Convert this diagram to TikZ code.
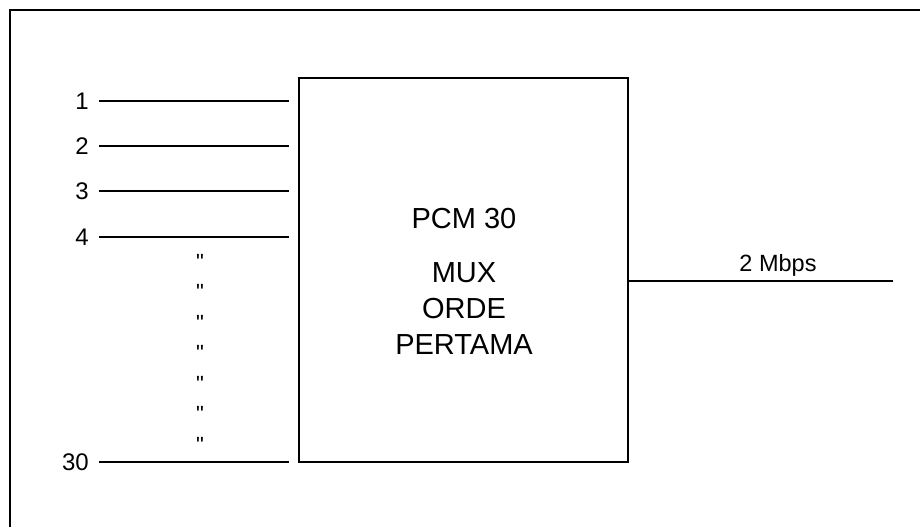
\documentclass[tikz,border=0pt]{standalone}
\usepackage{fontspec}
\setmainfont{Liberation Sans}
\begin{document}
\begin{tikzpicture}[x=1pt,y=-1pt,
  frame/.style={line width=2.6pt},
  muxbox/.style={draw,line width=2pt,minimum width=329pt,minimum height=384pt,inner sep=0pt},
  wire/.style={line width=2pt},
  lab/.style={inner sep=0pt,anchor=base east,font=\fontsize{24}{28}\selectfont},
  boxtxt/.style={inner sep=0pt,anchor=base,font=\fontsize{29}{34}\selectfont},
  ditto/.style={inner sep=0pt,anchor=base,font=\fontsize{22}{26}\selectfont}]
\useasboundingbox (0,0) rectangle (920,527);
% outer frame
\coordinate (fa) at (10,527);
\coordinate (fb) at (10,10);
\coordinate (fc) at (920,10);
\draw[frame] (fa) -- (fb) -- (fc);
% multiplexer box
\node[muxbox] (mux) at (463.5,270) {};
\node[boxtxt] (t1) at (464,228) {PCM 30};
\node[boxtxt] (t2) at (464,282) {MUX};
\node[boxtxt] (t3) at (464,318) {ORDE};
\node[boxtxt] (t4) at (464,354) {PERTAMA};
% inputs
\foreach \n/\y in {1/101,2/146,3/191,4/237,30/462}{
  \node[lab] (l\n) at (89,\y+8.5) {\n};
  \coordinate (a\n) at (99,\y);
  \coordinate (b\n) at (289,\y);
  \draw[wire] (a\n) -- (b\n);
}
% ditto marks
\foreach \i/\y in {1/256,2/286,3/317,4/347,5/378,6/408,7/439}{
  \node[ditto] (d\i) at (200,\y+13) {\textquotedbl};
}
% output
\coordinate (o1) at (628,281);
\coordinate (o2) at (893,281);
\draw[wire] (o1) -- (o2);
\node[inner sep=0pt,anchor=base,font=\fontsize{23.5}{28}\selectfont] (rate) at (778,271) {2 Mbps};
\end{tikzpicture}
\end{document}
